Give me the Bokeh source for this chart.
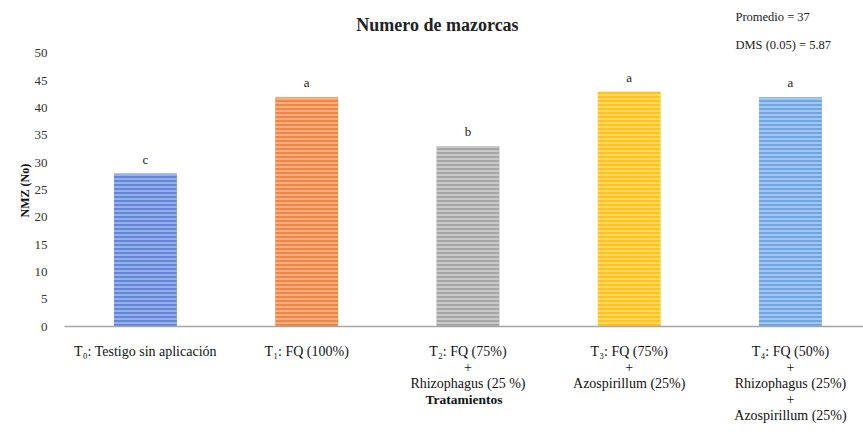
from bokeh.plotting import figure
from bokeh.models import Range1d, FixedTicker, Label, ColumnDataSource, Title
from bokeh.core.properties import value
from bokeh.embed import file_html
from bokeh.resources import INLINE

# ---- data ----
treatments = [
    "T₀: Testigo sin aplicación",
    "T₁: FQ (100%)",
    "T₂: FQ (75%)\n+\nRhizophagus (25 %)",
    "T₃: FQ (75%)\n+\nAzospirillum (25%)",
    "T₄: FQ (50%)\n+\nRhizophagus (25%)\n+\nAzospirillum (25%)",
]
nmz = [28, 42, 33, 43, 42]
letters = ["c", "a", "b", "a", "a"]
y_ticks = [0, 5, 10, 15, 20, 25, 30, 35, 40, 45, 50]
title_text = "Numero de mazorcas"
promedio_text = "Promedio = 37"
dms_text = "DMS (0.05) = 5.87"
x_title = "Tratamientos"
y_title = "NMZ (No)"

# ---- styles ----
bar_colors = ["#6386d8", "#f08545", "#a6a6a6", "#ffc31a", "#6fa6e2"]
stripe_colors = ["#a9bfee", "#f8bd93", "#d4d4d4", "#ffe07a", "#b3d1f3"]
SERIF = "Liberation Serif"

xs = list(range(len(treatments)))
src = ColumnDataSource(dict(x=xs, nmz=nmz, letters=letters,
                            color=bar_colors, stripe=stripe_colors))

p = figure(width=863, height=434,
           x_range=Range1d(-0.502, 4.453), y_range=Range1d(0, 59.7),
           output_backend="svg", toolbar_location=None,
           min_border_left=64, min_border_right=0,
           min_border_top=0, min_border_bottom=108)
p.outline_line_color = None
p.xgrid.grid_line_color = None
p.ygrid.grid_line_color = None

p.vbar(x="x", top="nmz", width=0.39, source=src,
       fill_color="color", line_color=None,
       hatch_pattern="-", hatch_color="stripe",
       hatch_scale=4, hatch_weight=1.5)

p.text(x="x", y="nmz", text="letters", source=src, y_offset=-7,
       text_align="center", text_baseline="bottom",
       text_font=value(SERIF), text_font_size="13px", text_color="#222222")

# x axis
p.xaxis.ticker = FixedTicker(ticks=xs)
p.xaxis.major_label_overrides = {i: t for i, t in zip(xs, treatments)}
p.xaxis.axis_line_color = "#a6a6a6"
p.xaxis.axis_line_width = 1.5
p.xaxis.major_tick_line_color = None
p.xaxis.minor_tick_line_color = None
p.xaxis.major_label_standoff = 11
p.xaxis.major_label_text_font = SERIF
p.xaxis.major_label_text_font_size = "14px"
p.xaxis.major_label_text_color = "#111111"
p.xaxis.major_label_text_line_height = 1.08
p.xaxis.axis_label = x_title
p.xaxis.axis_label_standoff = -34
p.xaxis.axis_label_text_font = SERIF
p.xaxis.axis_label_text_font_size = "13.5px"
p.xaxis.axis_label_text_font_style = "bold"
p.xaxis.axis_label_text_color = "#111111"

# y axis
p.yaxis.ticker = FixedTicker(ticks=y_ticks)
p.yaxis.axis_line_color = None
p.yaxis.major_tick_line_color = None
p.yaxis.minor_tick_line_color = None
p.yaxis.major_label_standoff = 11
p.yaxis.major_label_text_font = SERIF
p.yaxis.major_label_text_font_size = "13px"
p.yaxis.major_label_text_color = "#333333"

p.add_layout(Title(text=y_title, align="left", offset=109,
                   text_font=SERIF, text_font_size="12px",
                   text_font_style="bold", text_color="#111111",
                   standoff=0), "left")

p.add_layout(Label(x=1.811, y=55.13, text=title_text, text_align="center",
                   text_baseline="middle", text_font=SERIF,
                   text_font_size="18px", text_font_style="bold",
                   text_color="#222222"))
p.add_layout(Label(x=3.659, y=56.6, text=promedio_text, text_align="left",
                   text_baseline="middle", text_font=SERIF,
                   text_font_size="12.5px", text_color="#222222"))
p.add_layout(Label(x=3.659, y=51.47, text=dms_text, text_align="left",
                   text_baseline="middle", text_font=SERIF,
                   text_font_size="12.5px", text_color="#222222"))

open("out.html", "w").write(file_html(p, INLINE))
